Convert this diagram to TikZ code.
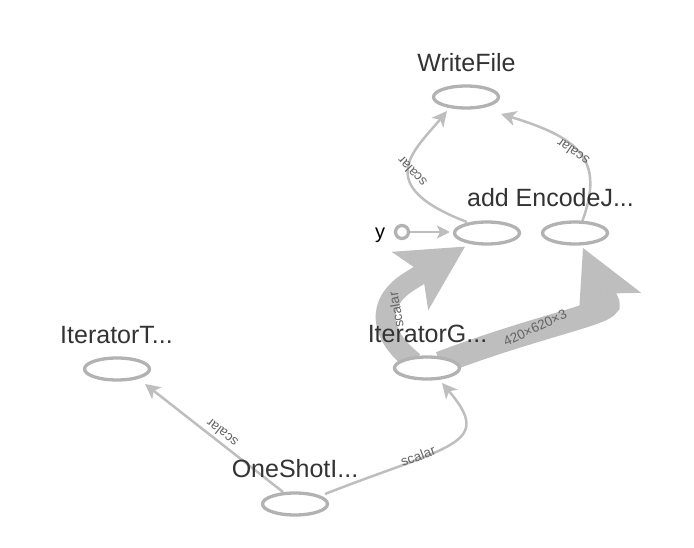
\documentclass[tikz,border=0pt]{standalone}
\usepackage{fontspec}
\setmainfont{Liberation Sans}
\usetikzlibrary{shapes.geometric,arrows.meta}
\pgfdeclarelayer{bg}
\pgfsetlayers{bg,main}
\definecolor{edgecol}{RGB}{190,190,190}
\definecolor{nodecol}{RGB}{178,178,178}
\definecolor{labcol}{RGB}{51,51,51}
\definecolor{elabcol}{RGB}{100,100,100}
\begin{document}
\begin{tikzpicture}[x=1pt,y=-1pt,
  opnode/.style={ellipse, draw=nodecol, line width=3.3pt, fill=white, minimum width=65pt, minimum height=22pt, inner sep=0pt, outer sep=0pt},
  oplabel/.style={anchor=base, text=labcol, font=\fontsize{25}{30}\selectfont, inner sep=0pt},
  thinedge/.style={draw=edgecol, line width=2.5pt, -{Stealth[length=15pt,width=15pt,inset=4pt]}},
  thickedge/.style={draw=edgecol, -{Stealth[length=65pt,width=69pt,inset=15pt,line width=0pt]}},
  elabel/.style={text=elabcol, font=\fontsize{13.5}{15}\selectfont, inner sep=0pt},
  inputnode/.style={circle, draw=nodecol, line width=3.3pt, fill=white, minimum size=13pt, inner sep=0pt, outer sep=0pt}]
\useasboundingbox (0,0) rectangle (694,548);

% operation nodes
\node[opnode] (wf) at (466,97) {};
\node[opnode] (add) at (487,233) {};
\node[opnode] (ej) at (575,233) {};
\node[opnode] (ig) at (427,368) {};
\node[opnode] (itT) at (117,369) {};
\node[opnode] (os) at (295,504) {};
\node[inputnode] (yc) at (402,232) {};

% node labels
\node[oplabel] (wfl) at (466.5,72) {WriteFile};
\node[oplabel] (ejl) at (550.5,207) {add EncodeJ...};
\node[oplabel] (igl) at (427.5,342) {IteratorG...};
\node[oplabel] (itTl) at (116.5,343) {IteratorT...};
\node[oplabel] (osl) at (295,477) {OneShotI...};
\node[anchor=base, font=\fontsize{20}{24}\selectfont, inner sep=0pt] (yl) at (380,238.5) {y};

% edges
\begin{pgfonlayer}{bg}
\draw[thickedge, line width=20pt] ([shift={(-13,-6)}]ig.center) .. controls (380,336) and (374,303) .. (410,281) -- ([shift={(-22,13.6)}]add.center);
\draw[thickedge, line width=23pt] ([shift={(13,-5)}]ig.center) .. controls (540,325) and (613,313) .. (608,303) -- ([shift={(8,15)}]ej.center);
\draw[thinedge] ([shift={(-12,-12)}]os.center) -- ([shift={(28,15)}]itT.center);
\draw[thinedge] ([shift={(30,-10)}]os.center) .. controls (450,445) and (495,445) .. ([shift={(15,15)}]ig.center);
\draw[thinedge] ([shift={(-20,-11)}]add.center) .. controls (370,185) and (415,150) .. ([shift={(-19,14)}]wf.center);
\draw[thinedge] ([shift={(7,-11)}]ej.center) .. controls (605,160) and (580,138) .. ([shift={(35,17)}]wf.center);
\draw[thinedge, -{Stealth[length=13pt,width=13pt,inset=3pt]}] (yc.east) -- ([shift={(-37,-1)}]add.center);
\end{pgfonlayer}

% edge labels
\node[elabel, rotate=142] (l1) at (222,433) {scalar};
\node[elabel, rotate=21] (l2) at (418,456) {scalar};
\node[elabel, rotate=133] (l3) at (412,172) {scalar};
\node[elabel, rotate=145] (l4) at (573,152) {scalar};
\node[elabel, rotate=100] (l5) at (396,310) {scalar};
\node[elabel, rotate=25] (l6) at (535,328) {420×620×3};
\end{tikzpicture}
\end{document}
